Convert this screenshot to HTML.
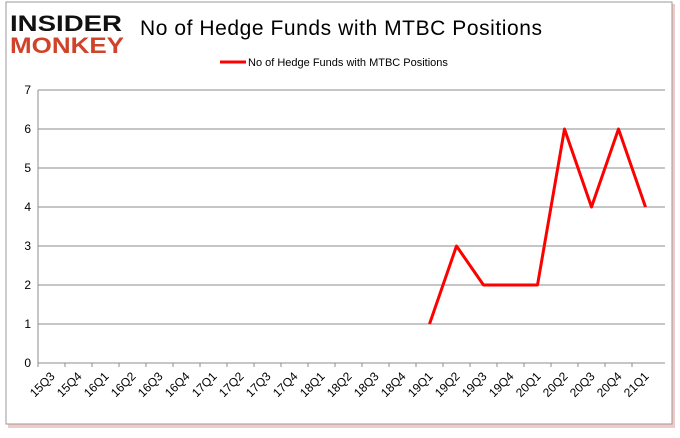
<!DOCTYPE html>
<html><head><meta charset="utf-8"><style>
body{margin:0;background:#fff;font-family:"Liberation Sans",sans-serif;}
</style></head><body>
<svg width="680" height="433" xmlns="http://www.w3.org/2000/svg">
<rect x="8" y="4" width="667" height="424" fill="#f2c9c9"/>
<rect x="6" y="2" width="666" height="422" fill="#fff" stroke="#999" stroke-width="1"/>
<g>
<text x="10" y="31" font-size="22" font-weight="900" fill="#111" font-family="Liberation Sans,sans-serif" textLength="112" lengthAdjust="spacingAndGlyphs">INSIDER</text>
<text x="10" y="53" font-size="22" font-weight="900" fill="#d0432b" font-family="Liberation Sans,sans-serif" textLength="114" lengthAdjust="spacingAndGlyphs">MONKEY</text>
</g>
<text x="140" y="35" font-size="21" fill="#000" textLength="402">No of Hedge Funds with MTBC Positions</text>
<line x1="220" y1="62" x2="246" y2="62" stroke="red" stroke-width="3"/>
<text x="248" y="66" font-size="11" fill="#000">No of Hedge Funds with MTBC Positions</text>
<g id="grid"></g><g id="axes"></g><g id="series"></g>
</svg>
<script>
const categories=["15Q3","15Q4","16Q1","16Q2","16Q3","16Q4","17Q1","17Q2","17Q3","17Q4","18Q1","18Q2","18Q3","18Q4","19Q1","19Q2","19Q3","19Q4","20Q1","20Q2","20Q3","20Q4","21Q1"];
const values=[null,null,null,null,null,null,null,null,null,null,null,null,null,null,1,3,2,2,2,6,4,6,4];
const yTicks=[0,1,2,3,4,5,6,7];
const NS="http://www.w3.org/2000/svg";
const x0=38,step=27,yBase=363,unit=39;
const xs=i=>x0+step*(i+0.5);
const ys=v=>yBase-v*unit;
function mk(t,a,p){const e=document.createElementNS(NS,t);for(const k in a)e.setAttribute(k,a[k]);p.appendChild(e);return e;}
const grid=document.getElementById('grid'),axes=document.getElementById('axes'),series=document.getElementById('series');
yTicks.forEach(v=>{
 if(v>0){const g=mk('line',{x1:x0,x2:665,y1:ys(v),y2:ys(v),stroke:'#8c8c8c','stroke-width':1},grid);
 
 }
 const t=mk('text',{x:x0-7,y:ys(v)+4,'font-size':12,'text-anchor':'end',fill:'#000'},axes);t.textContent=v;
 
 
});
const ya=mk('line',{x1:x0,x2:x0,y1:ys(7),y2:yBase,stroke:'#8c8c8c'},axes);


const xa=mk('line',{x1:x0,x2:665,y1:yBase,y2:yBase,stroke:'#8c8c8c'},axes);


categories.forEach((c,i)=>{
 const tk=mk('line',{x1:x0+step*i,x2:x0+step*i,y1:yBase,y2:yBase+4,stroke:'#8c8c8c'},axes);
 
 
 const cx=xs(i)+4,cy=yBase+14;
 const t=mk('text',{x:cx,y:cy,'font-size':12,'text-anchor':'end',fill:'#000',transform:`rotate(-45 ${cx} ${cy})`},axes);
 t.textContent=c;
 
 
});
let d='';values.forEach((v,i)=>{if(v==null)return;d+=(d?'L':'M')+xs(i)+','+ys(v);});
const p=mk('path',{d:d,fill:'none',stroke:'red','stroke-width':3,'stroke-linejoin':'round'},series);


</script>
</body></html>
